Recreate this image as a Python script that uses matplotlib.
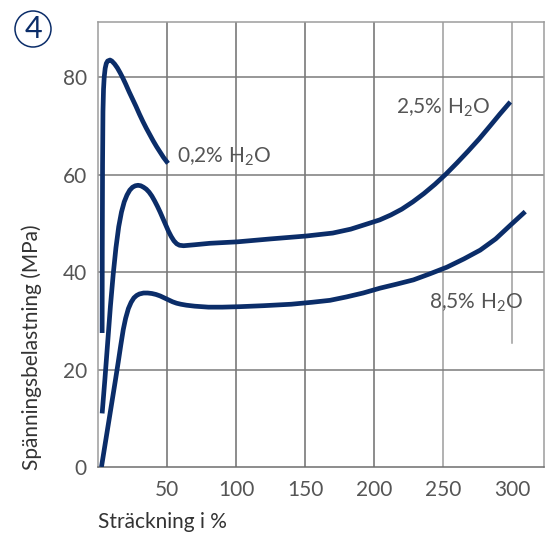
import matplotlib
matplotlib.use('Agg')
import matplotlib.pyplot as plt
from matplotlib.patches import Circle

plt.rcParams['font.family'] = ['Lato', 'DejaVu Sans']

NAVY = '#0b2d69'
GREY_TXT = '#555555'

# strain (%) / stress (MPa)
x_02 = [3.0, 3.1, 3.3, 3.6, 4.0, 4.5, 5.2, 6.0, 7.0, 8.7, 10.0, 12.0, 14.0, 16.0, 18.0, 20.0, 22.5, 25.0,
        27.5, 30.0, 32.5, 35.0, 37.5, 40.0, 42.5, 45.0, 47.5, 50.7]
y_02 = [27.5, 45.0, 62.0, 73.0, 77.5, 80.0, 81.8, 82.8, 83.3, 83.5, 83.3, 82.7, 81.9, 80.9, 79.8, 78.6, 77.0, 75.5,
        74.0, 72.4, 70.9, 69.5, 68.2, 66.9, 65.7, 64.6, 63.5, 62.3]

x_25 = [3.0, 5.0, 7.0, 9.0, 11.0, 13.0, 15.0, 17.0, 19.0, 21.0, 23.0, 25.0, 27.0, 29.0, 31.0, 33.0, 35.0, 37.0,
        39.0, 41.0, 43.0, 45.0, 47.0, 49.0, 51.0, 53.0, 55.0, 57.0, 59.0, 62.0, 70.0, 81.0, 101.0, 125.0,
        151.0, 170.0, 183.0, 193.0, 204.0, 212.0, 220.0, 228.0, 236.0, 244.0, 252.0, 260.0, 268.0, 276.0,
        284.0, 291.0, 298.6]
y_25 = [11.0, 18.0, 25.5, 33.0, 39.5, 45.0, 49.3, 52.3, 54.4, 55.8, 56.8, 57.4, 57.7, 57.8, 57.7, 57.4, 57.0, 56.4,
        55.6, 54.6, 53.5, 52.3, 51.0, 49.7, 48.4, 47.3, 46.4, 45.8, 45.5, 45.4, 45.6, 45.9, 46.2, 46.8,
        47.4, 48.0, 48.8, 49.7, 50.7, 51.7, 52.9, 54.4, 56.1, 58.0, 60.1, 62.4, 64.8, 67.3,
        70.0, 72.4, 74.9]

x_85 = [2.5, 5.0, 7.5, 10.0, 12.5, 14.7, 16.5, 18.3, 20.0, 22.0, 24.0, 26.0, 28.0, 30.0, 33.0, 36.0, 39.0, 42.0,
        45.0, 48.0, 51.0, 54.0, 57.0, 60.0, 64.0, 70.0, 80.0, 90.0, 103.0, 120.0, 140.0, 155.0, 168.0, 180.0,
        192.0, 204.3, 216.0, 228.5, 240.0, 252.7, 265.0, 276.8, 288.0, 298.6, 309.4]
y_85 = [0.0, 4.4, 8.8, 13.2, 17.6, 21.6, 25.0, 28.2, 30.5, 32.5, 33.8, 34.7, 35.2, 35.5, 35.7, 35.7, 35.6, 35.4,
        35.1, 34.7, 34.3, 33.9, 33.6, 33.4, 33.2, 33.0, 32.8, 32.8, 32.9, 33.1, 33.4, 33.8, 34.2, 34.9,
        35.7, 36.7, 37.5, 38.4, 39.6, 41.0, 42.7, 44.5, 46.8, 49.6, 52.4]

x_ticks = [50, 100, 150, 200, 250, 300]
y_ticks = [0, 20, 40, 60, 80]

fig = plt.figure(figsize=(5.49, 5.33), dpi=100)
ax = fig.add_axes([0.1785, 0.1238, 0.8124, 0.8349])
ax.set_xlim(0, 323)
ax.set_ylim(0, 91.3)

# grid drawn by hand: the 300 line stops short above the 8,5% label
for xv in x_ticks:
    c = '#6e6e6e' if xv <= 200 else '#9c9c9c'
    if xv == 300:
        ax.axvline(xv, ymin=25.4 / 91.3, ymax=1, color=c, lw=1.1, zorder=1)
    else:
        ax.axvline(xv, color=c, lw=1.1, zorder=1)
for yv in y_ticks[1:]:
    ax.axhline(yv, color='#7a7a7a', lw=1.1, zorder=1)

for name, sp in ax.spines.items():
    sp.set_linewidth(1.1)
    sp.set_color('#9c9c9c' if name in ('top', 'right', 'left') else '#6e6e6e')

ax.plot(x_02, y_02, color=NAVY, lw=3.4, solid_capstyle='butt', solid_joinstyle='round', zorder=3)
ax.plot(x_25, y_25, color=NAVY, lw=3.4, solid_capstyle='butt', solid_joinstyle='round', zorder=3)
ax.plot(x_85, y_85, color=NAVY, lw=3.4, solid_capstyle='butt', solid_joinstyle='round', zorder=3)

ax.set_xticks(x_ticks)
ax.set_yticks(y_ticks)
ax.tick_params(length=0, labelsize=15, colors=GREY_TXT)
ax.tick_params(axis='x', pad=9)
ax.tick_params(axis='y', pad=8)

ax.set_xlabel('Sträckning i %', fontsize=15, color='#333333', ha='left', va='center')
ax.xaxis.set_label_coords(0.0, -0.124)
ax.set_ylabel('Spänningsbelastning (MPa)', fontsize=15, color='#333333', va='center')
ax.yaxis.set_label_coords(-0.148, 0.27)

lab = dict(fontsize=15, color=GREY_TXT, va='center', ha='left')
ax.text(57, 63.6, r'0,2% H$_\mathregular{2}$O', **lab)
ax.text(216, 73.8, r'2,5% H$_\mathregular{2}$O', **lab)
ax.text(240, 33.8, r'8,5% H$_\mathregular{2}$O', **lab)

# circled panel number
fig.patches.append(Circle((33, 533 - 29), 18, transform=None, fill=False,
                          edgecolor=NAVY, lw=1.1))
fig.text(33 / 549, 1 - 29 / 533, '4', fontsize=22, color=NAVY, ha='center', va='center')

fig.savefig('out.png', dpi=100)
